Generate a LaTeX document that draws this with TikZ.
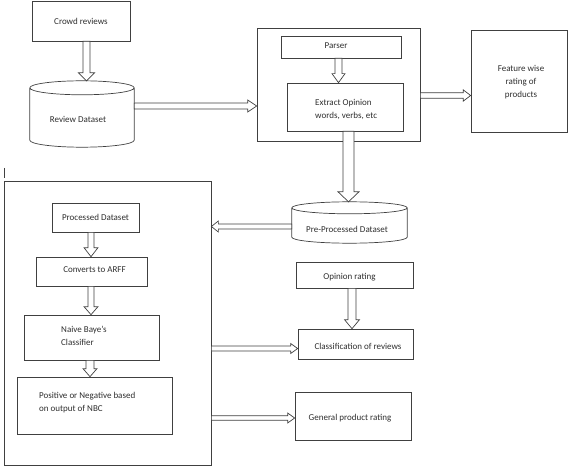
\documentclass[tikz,border=0pt]{standalone}
\usepackage{fontspec}
\setmainfont{Carlito}
\usetikzlibrary{calc}
\definecolor{ln}{HTML}{404040}
\definecolor{tx}{HTML}{2E2E2E}
\newcommand\fs{\fontsize{9}{13}\selectfont}
% block arrow from #1 to #2: shaft half width #3, head half width #4, head length #5
\newcommand\blockarrow[5]{%
  \draw[barrow] ($(#1)!#3!90:(#2)$) -- ($(#2)!#5!(#1)!#3!-90:(#1)$)
    -- ($(#2)!#5!(#1)!#4!-90:(#1)$) -- (#2)
    -- ($(#2)!#5!(#1)!#4!90:(#1)$) -- ($(#2)!#5!(#1)!#3!90:(#1)$)
    -- ($(#1)!#3!-90:(#2)$) -- cycle;}
% cylinder outline around node #1 with ellipse half height #2
\newcommand\dbshape[2]{%
  \path[line] let \p1=(#1.north west), \p2=(#1.south east), \n1={(\x2-\x1)/2} in
    (\x1,\y1-#2) arc[start angle=180,end angle=-180,x radius={\n1*1pt},y radius=#2]
    (\x1,\y1-#2) -- (\x1,\y2+#2) arc[start angle=180,end angle=360,x radius={\n1*1pt},y radius=#2]
    -- (\x2,\y1-#2);}
\begin{document}
\begin{tikzpicture}[x=1pt,y=-1pt,
  line/.style={draw=ln, line width=0.7pt},
  box/.style={line, rectangle, inner sep=0pt, text=tx, font=\fs, align=center},
  dbnode/.style={rectangle, inner sep=0pt},
  txt/.style={text=tx, font=\fs, inner sep=0pt, align=left},
  barrow/.style={line, line join=miter, fill=white}]
\useasboundingbox (0,0) rectangle (568,468);

% boxes
\node[box, minimum width=98, minimum height=40] (crowd) at (81,21) {Crowd reviews};
\node[dbnode, minimum width=104, minimum height=66] (review) at (82,114) {};
\node[txt] (reviewtxt) at (78,119) {Review Dataset};
\node[box, minimum width=163, minimum height=113] (bigbox) at (338.5,84.5) {};
\node[box, minimum width=120, minimum height=22] (parser) at (341,47) {};
\node[txt] (parsertxt) at (336,46) {Parser};
\node[box, minimum width=116, minimum height=48] (extract) at (345,107) {};
\node[txt, anchor=west] (extracttxt) at (315,109.5) {Extract Opinion\\words, verbs, etc};
\node[box, minimum width=96, minimum height=102] (feature) at (519,81) {};
\node[txt, align=center] (featuretxt) at (521,82.5) {Feature wise\\rating of\\products};
\node[dbnode, minimum width=115, minimum height=41] (preproc) at (349.5,222.5) {};
\node[txt] (preproctxt) at (347,229) {Pre-Processed Dataset};

\node[box, minimum width=207, minimum height=284] (leftbox) at (107.5,323) {};
\node[box, minimum width=87, minimum height=29] (processed) at (95.5,217.5) {Processed Dataset};
\node[box, minimum width=111, minimum height=29] (converts) at (91.5,271.5) {};
\node[txt] (convertstxt) at (94.5,270) {Converts to ARFF};
\node[box, minimum width=135, minimum height=45] (naive) at (91.5,337.5) {};
\node[txt, anchor=west] (naivetxt) at (61,335.5) {Naive Baye’s\\Classifier};
\node[box, minimum width=155, minimum height=57] (positive) at (94.5,405.5) {};
\node[txt, anchor=west] (positivetxt) at (39,402.5) {Positive or Negative based\\on output of NBC};

\node[box, minimum width=117, minimum height=26] (opinion) at (354.5,275) {};
\node[txt] (opiniontxt) at (349.5,277) {Opinion rating};
\node[box, minimum width=115, minimum height=30] (classif) at (355.5,344) {};
\node[txt] (classiftxt) at (358,346) {Classification of reviews};
\node[box, minimum width=116, minimum height=48] (general) at (353,416) {};
\node[txt] (generaltxt) at (350,418) {General product rating};

\dbshape{review}{7pt}
\dbshape{preproc}{6pt}

% stray mark
\draw[line] (4,168) -- (4,178);

% arrow end points
\coordinate (a1s) at ([xshift=5.5pt]crowd.south);
\coordinate (a1e) at (a1s |- review.north);
\coordinate (a2s) at ([yshift=8pt]review.east);
\coordinate (a2e) at (a2s -| bigbox.west);
\coordinate (a3s) at ([xshift=-2.5pt]parser.south);
\coordinate (a3e) at (a3s |- extract.north);
\coordinate (a4s) at ([yshift=-11pt]bigbox.east);
\coordinate (a4e) at (a4s -| feature.west);
\coordinate (a5s) at ([xshift=3.5pt]extract.south);
\coordinate (a5e) at (a5s |- preproc.north);
\coordinate (a6s) at ([yshift=-4pt]preproc.west);
\coordinate (a6e) at (a6s -| leftbox.east);
\coordinate (a7s) at ([xshift=-4.5pt]processed.south);
\coordinate (a7e) at (a7s |- converts.north);
\coordinate (a8s) at ([xshift=-0.5pt]converts.south);
\coordinate (a8e) at (a8s |- naive.north);
\coordinate (a9s) at ([xshift=-1.5pt]naive.south);
\coordinate (a9e) at (a9s |- positive.north);
\coordinate (a10e) at ([yshift=-4.5pt]classif.west);
\coordinate (a10s) at (a10e -| leftbox.east);
\coordinate (a11s) at ([xshift=-2.5pt]opinion.south);
\coordinate (a11e) at (a11s |- classif.north);
\coordinate (a12e) at ([yshift=-2pt]general.west);
\coordinate (a12s) at (a12e -| leftbox.east);

% block arrows
\blockarrow{a1s}{a1e}{3.5pt}{8pt}{8pt}
\blockarrow{a2s}{a2e}{3pt}{6pt}{9pt}
\blockarrow{a3s}{a3e}{3.5pt}{6.5pt}{9pt}
\blockarrow{a4s}{a4e}{2.7pt}{5.7pt}{7.5pt}
\blockarrow{a5s}{a5e}{5.5pt}{10.5pt}{10pt}
\blockarrow{a6s}{a6e}{2.5pt}{5.5pt}{7pt}
\blockarrow{a7s}{a7e}{3pt}{7pt}{9pt}
\blockarrow{a8s}{a8e}{3pt}{7pt}{8pt}
\blockarrow{a9s}{a9e}{4pt}{7pt}{8pt}
\blockarrow{a10s}{a10e}{2.5pt}{5pt}{7pt}
\blockarrow{a11s}{a11e}{4pt}{7.5pt}{9pt}
\blockarrow{a12s}{a12e}{2.2pt}{5pt}{7pt}
\end{tikzpicture}
\end{document}
